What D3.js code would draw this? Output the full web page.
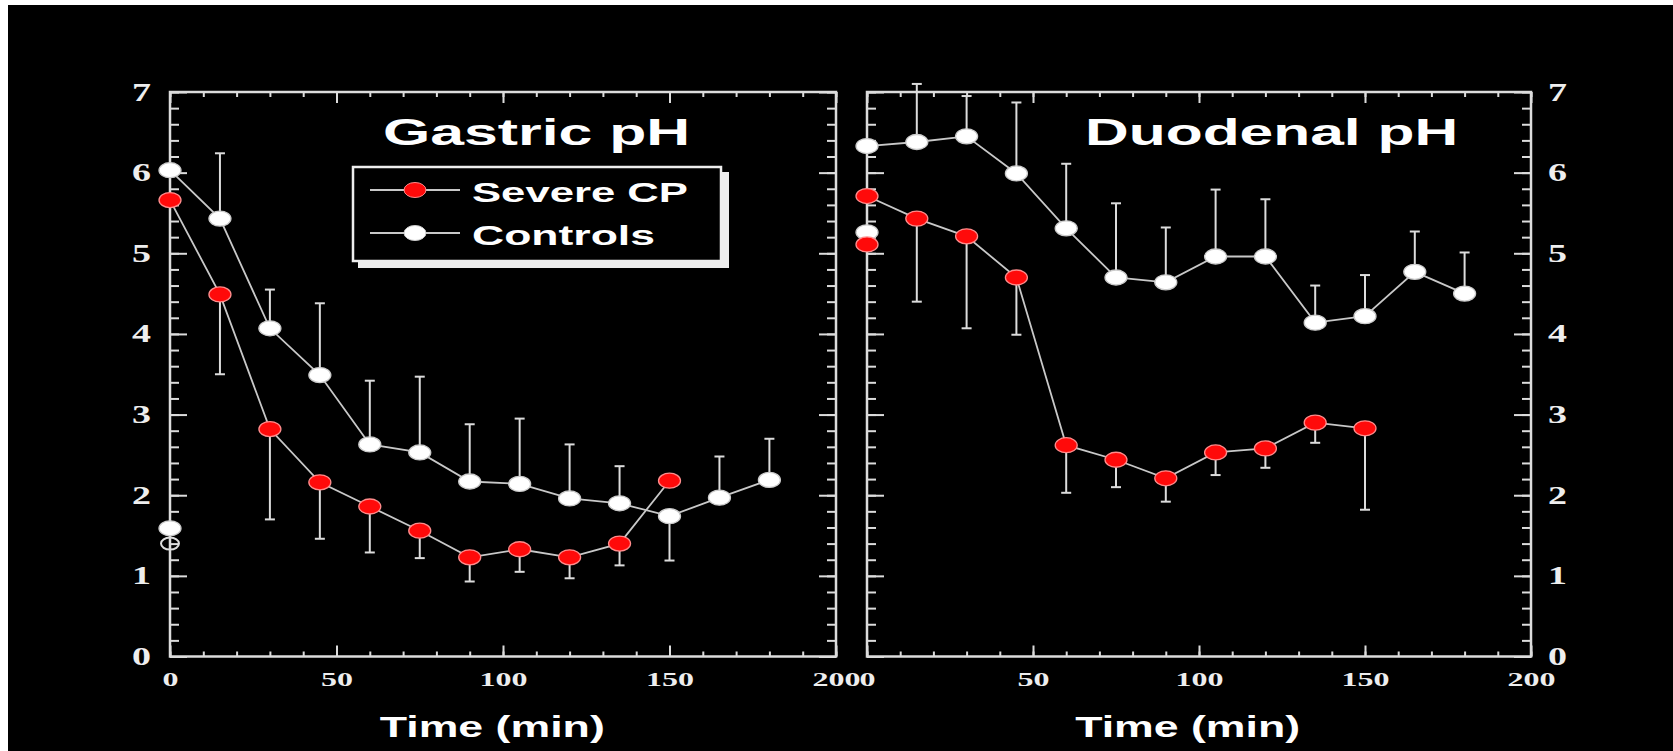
<!DOCTYPE html>
<html>
<head>
<meta charset="utf-8">
<script src="https://cdn.jsdelivr.net/npm/d3@7"></script>
<style>
  body { margin: 0; background: #fff; }
  svg { display: block; }
</style>
</head>
<body>
<svg id="chart"></svg>
<script>
// sampling times (min)
const times = [0, 15, 30, 45, 60, 75, 90, 105, 120, 135, 150, 165, 180];

// Gastric pH
const gastricControls    = [6.03, 5.43, 4.07, 3.49, 2.63, 2.53, 2.17, 2.14, 1.96, 1.90, 1.74, 1.97, 2.19];
const gastricControlsErr = [null, 6.24, 4.55, 4.38, 3.42, 3.47, 2.88, 2.95, 2.63, 2.36, 1.19, 2.48, 2.70];
const gastricSevere      = [5.66, 4.49, 2.82, 2.16, 1.86, 1.56, 1.23, 1.33, 1.23, 1.40, 2.18];
const gastricSevereErr   = [null, 3.50, 1.70, 1.46, 1.29, 1.22, 0.93, 1.05, 0.97, 1.13, null];
const gastricExtraControls = [1.59];
const gastricExtraOpen     = [1.40];

// Duodenal pH
const duodenalControls    = [6.33, 6.38, 6.45, 5.99, 5.31, 4.70, 4.64, 4.96, 4.96, 4.14, 4.22, 4.77, 4.50];
const duodenalControlsErr = [null, 7.10, 6.95, 6.87, 6.11, 5.62, 5.32, 5.79, 5.67, 4.60, 4.73, 5.27, 5.01];
const duodenalSevere      = [5.71, 5.43, 5.21, 4.70, 2.62, 2.44, 2.21, 2.53, 2.58, 2.90, 2.83];
const duodenalSevereErr   = [null, 4.40, 4.07, 3.99, 2.03, 2.10, 1.92, 2.25, 2.34, 2.65, 1.82];
const duodenalExtraControls = [5.26];
const duodenalExtraSevere   = [5.11];

const xMajor = [0, 50, 100, 150, 200];
const xMinor = d3.range(0, 201, 10);
const yMajor = [0, 1, 2, 3, 4, 5, 6, 7];
const yMinor = d3.range(0, 36).map(i => i / 5);

const legendItems = ["Severe CP", "Controls"];

const width = 1673, height = 751;
const svg = d3.select("#chart").attr("width", width).attr("height", height);

// black plate with the thin white edge at top / left
svg.append("rect").attr("x", 8).attr("y", 5)
  .attr("width", width - 8).attr("height", height - 5).attr("fill", "#000");

const lineCol = "#dcdcdc";
const red = "#ff0a0a";

function zip(vals, errs) {
  return vals.map((v, i) => ({ t: times[i], v: v, e: errs[i] }));
}

function styleAxis(sel, size, charW) {
  sel.attr("font-family", null).attr("font-size", null);
  sel.select(".domain").remove();
  sel.selectAll(".tick line").attr("stroke", lineCol).attr("stroke-width", 2);
  sel.selectAll(".tick text")
    .attr("fill", "#eee")
    .style("font-family", "'Liberation Serif', 'DejaVu Serif', serif")
    .style("font-weight", "bold")
    .style("font-size", size + "px")
    .attr("textLength", function() { return this.textContent.length * charW; })
    .attr("lengthAdjust", "spacingAndGlyphs");
}

function drawPanel(p) {
  const x = d3.scaleLinear().domain([0, 200]).range([p.x0, p.x1]);
  const y = d3.scaleLinear().domain([0, 7]).range([656.5, 92]);
  const g = svg.append("g");

  // axes: minor ticks then major ticks, all pointing inside
  g.append("g").attr("transform", `translate(0,${y(0)})`)
    .call(d3.axisBottom(x).tickValues(xMinor).tickSize(-5).tickFormat(""))
    .call(s => styleAxis(s, 19, 16));
  g.append("g").attr("transform", `translate(0,${y(0)})`)
    .call(d3.axisBottom(x).tickValues(xMajor).tickSize(-11).tickPadding(16))
    .call(s => styleAxis(s, 19, 16));
  g.append("g").attr("transform", `translate(0,${y(7)})`)
    .call(d3.axisTop(x).tickValues(xMinor).tickSize(-5).tickFormat(""))
    .call(s => styleAxis(s, 19, 16));
  g.append("g").attr("transform", `translate(0,${y(7)})`)
    .call(d3.axisTop(x).tickValues(xMajor).tickSize(-11).tickFormat(""))
    .call(s => styleAxis(s, 19, 16));

  g.append("g").attr("transform", `translate(${x(0)},0)`)
    .call(d3.axisLeft(y).tickValues(yMinor).tickSize(-9).tickFormat(""))
    .call(s => styleAxis(s, 25, 19));
  g.append("g").attr("transform", `translate(${x(0)},0)`)
    .call(d3.axisLeft(y).tickValues(yMajor).tickSize(-17).tickPadding(19)
      .tickFormat(p.labels === "left" ? d3.format("d") : ""))
    .call(s => styleAxis(s, 25, 19));
  g.append("g").attr("transform", `translate(${x(200)},0)`)
    .call(d3.axisRight(y).tickValues(yMinor).tickSize(-9).tickFormat(""))
    .call(s => styleAxis(s, 25, 19));
  g.append("g").attr("transform", `translate(${x(200)},0)`)
    .call(d3.axisRight(y).tickValues(yMajor).tickSize(-17).tickPadding(17)
      .tickFormat(p.labels === "right" ? d3.format("d") : ""))
    .call(s => styleAxis(s, 25, 19));

  // frame
  g.append("rect")
    .attr("x", x(0)).attr("y", y(7))
    .attr("width", x(200) - x(0)).attr("height", y(0) - y(7))
    .attr("fill", "none").attr("stroke", lineCol).attr("stroke-width", 2.5);

  // title
  g.append("text")
    .attr("x", x(p.titleT)).attr("y", 145)
    .attr("fill", "#fff")
    .style("font-family", "'Liberation Sans', Arial, sans-serif")
    .style("font-weight", "bold")
    .style("font-size", "36px")
    .attr("textLength", p.titleW).attr("lengthAdjust", "spacingAndGlyphs")
    .text(p.title);

  // x-axis label
  g.append("text")
    .attr("x", x(p.labelT)).attr("y", 737)
    .attr("fill", "#fff")
    .style("font-family", "'Liberation Sans', Arial, sans-serif")
    .style("font-weight", "bold")
    .style("font-size", "29px")
    .attr("textLength", 225).attr("lengthAdjust", "spacingAndGlyphs")
    .text("Time (min)");

  const line = d3.line().x(d => x(d.t)).y(d => y(d.v));

  p.series.forEach(s => {
    const pts = zip(s.values, s.errs);
    // error bars
    const eb = g.append("g").selectAll("g").data(pts.filter(d => d.e != null)).join("g");
    eb.append("line")
      .attr("x1", d => x(d.t)).attr("x2", d => x(d.t))
      .attr("y1", d => y(d.v)).attr("y2", d => y(d.e))
      .attr("stroke", lineCol).attr("stroke-width", 2);
    eb.append("line")
      .attr("x1", d => x(d.t) - 5).attr("x2", d => x(d.t) + 5)
      .attr("y1", d => y(d.e)).attr("y2", d => y(d.e))
      .attr("stroke", lineCol).attr("stroke-width", 2);
    // connecting line
    g.append("path").datum(pts)
      .attr("d", line).attr("fill", "none")
      .attr("stroke", "#c8c8c8").attr("stroke-width", 1.8);
  });

  p.series.forEach(s => {
    const pts = zip(s.values, s.errs);
    g.append("g").selectAll("ellipse").data(pts).join("ellipse")
      .attr("cx", d => x(d.t)).attr("cy", d => y(d.v))
      .attr("rx", 11).attr("ry", 7.5)
      .attr("fill", s.fill).attr("stroke", s.stroke).attr("stroke-width", 1.3);
  });

  // unconnected baseline points at t = 0
  p.extras.forEach(ex => {
    g.append("g").selectAll("ellipse").data(ex.values).join("ellipse")
      .attr("cx", x(0)).attr("cy", d => y(d))
      .attr("rx", ex.open ? 9 : 11).attr("ry", ex.open ? 6 : 7.5)
      .attr("fill", ex.open ? "none" : ex.fill)
      .attr("stroke", ex.stroke).attr("stroke-width", ex.open ? 2 : 1.3);
  });

  if (p.legend) {
    const lg = g.append("g");
    // shadowed box
    lg.append("rect").attr("x", 358).attr("y", 172).attr("width", 371).attr("height", 96).attr("fill", "#eee");
    lg.append("rect").attr("x", 353).attr("y", 167).attr("width", 368).attr("height", 94)
      .attr("fill", "#000").attr("stroke", "#eee").attr("stroke-width", 2.5);
    const rows = lg.selectAll("g.row").data(legendItems).join("g")
      .attr("transform", (d, i) => `translate(0,${190 + i * 43})`);
    rows.append("line").attr("x1", 370).attr("x2", 460)
      .attr("stroke", "#c8c8c8").attr("stroke-width", 1.8);
    rows.append("ellipse").attr("cx", 415).attr("rx", 11).attr("ry", 7.5)
      .attr("fill", (d, i) => i === 0 ? red : "#fff")
      .attr("stroke", (d, i) => i === 0 ? "#ff8c8c" : "#ccc");
    rows.append("text").attr("x", 472).attr("y", 12)
      .attr("fill", "#fff")
      .style("font-family", "'Liberation Sans', Arial, sans-serif")
      .style("font-weight", "bold")
      .style("font-size", "28px")
      .attr("textLength", (d, i) => i === 0 ? 216 : 183)
      .attr("lengthAdjust", "spacingAndGlyphs")
      .text(d => d);
  }
}

drawPanel({
  x0: 170, x1: 836, labels: "left",
  title: "Gastric pH", titleT: 64, titleW: 307, labelT: 63,
  legend: true,
  series: [
    { values: gastricControls, errs: gastricControlsErr, fill: "#fff", stroke: "#ccc" },
    { values: gastricSevere, errs: gastricSevereErr, fill: red, stroke: "#ff8c8c" }
  ],
  extras: [
    { values: gastricExtraControls, fill: "#fff", stroke: "#ccc" },
    { values: gastricExtraOpen, open: true, stroke: "#ddd" }
  ]
});

drawPanel({
  x0: 867, x1: 1531, labels: "right",
  title: "Duodenal pH", titleT: 65.7, titleW: 373, labelT: 62.7,
  legend: false,
  series: [
    { values: duodenalControls, errs: duodenalControlsErr, fill: "#fff", stroke: "#ccc" },
    { values: duodenalSevere, errs: duodenalSevereErr, fill: red, stroke: "#ff8c8c" }
  ],
  extras: [
    { values: duodenalExtraControls, fill: "#fff", stroke: "#ccc" },
    { values: duodenalExtraSevere, fill: red, stroke: "#ff8c8c" }
  ]
});
</script>
</body>
</html>
